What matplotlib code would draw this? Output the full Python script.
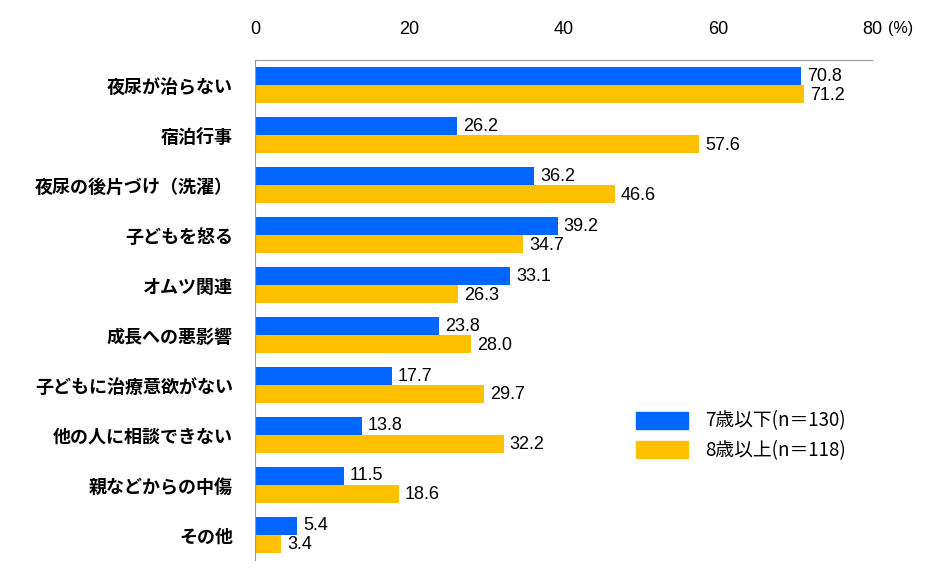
import matplotlib
matplotlib.use("Agg")
import matplotlib.pyplot as plt
import numpy as np
from matplotlib.patches import Patch

plt.rcParams["font.family"] = ["Noto Sans CJK JP", "DejaVu Sans"]

# chart data
categories = [
    "夜尿が治らない",
    "宿泊行事",
    "夜尿の後片づけ（洗濯）",
    "子どもを怒る",
    "オムツ関連",
    "成長への悪影響",
    "子どもに治療意欲がない",
    "他の人に相談できない",
    "親などからの中傷",
    "その他",
]
under7 = [70.8, 26.2, 36.2, 39.2, 33.1, 23.8, 17.7, 13.8, 11.5, 5.4]
over8 = [71.2, 57.6, 46.6, 34.7, 26.3, 28.0, 29.7, 32.2, 18.6, 3.4]
series_names = ["7歳以下(n＝130)", "8歳以上(n＝118)"]
xticks = [0, 20, 40, 60, 80]

blue = "#0066FF"
yellow = "#FFC000"
num_font = ["Liberation Sans Narrow", "Liberation Sans", "DejaVu Sans"]

fig = plt.figure(figsize=(9.45, 5.79), dpi=100)
ax = fig.add_axes([0.27, 0.033, 0.653, 0.863])

y = np.arange(len(categories))
h = 0.36
ax.barh(y - h / 2, under7, height=h, color=blue)
ax.barh(y + h / 2, over8, height=h, color=yellow)

for yi, v in zip(y, under7):
    ax.text(v + 0.8, yi - h / 2, f"{v:.1f}", va="center", ha="left",
            fontsize=13, family=num_font)
for yi, v in zip(y, over8):
    ax.text(v + 0.8, yi + h / 2 + 0.02, f"{v:.1f}", va="center", ha="left",
            fontsize=13, family=num_font)

ax.set_ylim(len(categories) - 0.5, -0.5)
ax.set_xlim(0, 80)
ax.set_yticks(y)
ax.set_yticklabels(categories, fontsize=13, fontweight="bold")
ax.xaxis.tick_top()
ax.set_xticks(xticks)
ax.set_xticklabels([str(t) for t in xticks], fontsize=13, family=num_font)
ax.tick_params(axis="y", length=0, pad=16)
ax.tick_params(axis="x", length=0, pad=16)
ax.text(82, 1.063, "(%)", transform=ax.get_xaxis_transform(), fontsize=11.5,
        va="center", ha="left", family=num_font)

for s in ["bottom", "right"]:
    ax.spines[s].set_visible(False)
ax.spines["top"].set_color("#999999")
ax.spines["left"].set_color("#999999")

handles = [Patch(color=blue), Patch(color=yellow)]
fig.legend(handles, series_names, loc="upper left", bbox_to_anchor=(0.655, 0.32),
           frameon=False, fontsize=13.5, handlelength=2.8, handleheight=1.0,
           handletextpad=0.9, labelspacing=0.45)

fig.savefig("out.png", dpi=100)
